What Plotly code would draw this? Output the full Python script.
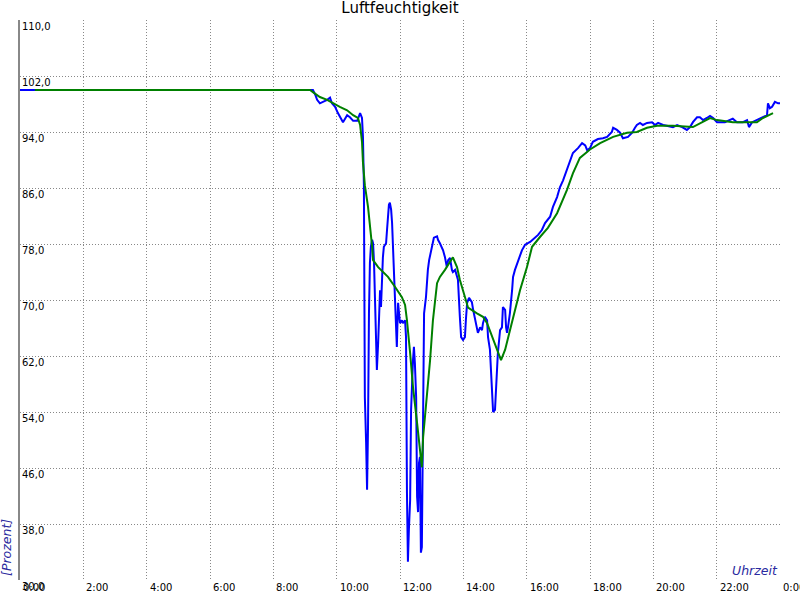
import plotly.graph_objects as go

# Blue: measured humidity (time in hours, value in %)
blue_t = [0.0, 9.158, 9.25, 9.317, 9.383, 9.47, 9.57, 9.70, 9.79, 9.85, 9.95, 10.04, 10.2, 10.33, 10.42,
          10.52, 10.65, 10.74, 10.80, 10.83, 10.86, 10.87, 10.89, 10.93, 10.96, 10.99, 11.0, 11.02, 11.05,
          11.08, 11.12, 11.15, 11.18, 11.21, 11.24, 11.27, 11.31, 11.34, 11.37, 11.40, 11.43, 11.46, 11.49,
          11.56, 11.59, 11.62, 11.65, 11.68, 11.72, 11.75, 11.78, 11.81, 11.84, 11.87, 11.90, 11.92, 11.94,
          11.97, 12.0, 12.06, 12.09, 12.16, 12.19, 12.22, 12.24, 12.25, 12.28, 12.32, 12.35, 12.38, 12.41,
          12.44, 12.47, 12.51, 12.54, 12.57, 12.58, 12.60, 12.63, 12.66, 12.69, 12.73, 12.74, 12.76, 12.82,
          12.85, 12.88, 12.92, 12.98, 13.04, 13.07, 13.17, 13.20, 13.26, 13.36, 13.42, 13.48, 13.52, 13.58,
          13.64, 13.67, 13.74, 13.83, 13.89, 13.93, 13.99, 14.05, 14.08, 14.12, 14.18, 14.27, 14.31, 14.37,
          14.43, 14.46, 14.53, 14.59, 14.62, 14.68, 14.75, 14.78, 14.84, 14.87, 14.91, 14.94, 15.0, 15.06,
          15.09, 15.16, 15.22, 15.25, 15.32, 15.35, 15.38, 15.41, 15.47, 15.54, 15.57, 15.63, 15.73, 15.85,
          15.95, 16.11, 16.26, 16.36, 16.48, 16.58, 16.74, 16.83, 16.96, 17.05, 17.15, 17.27, 17.37, 17.46,
          17.62, 17.75, 17.85, 17.91, 18.0, 18.09, 18.25, 18.41, 18.54, 18.69, 18.73, 18.85, 18.95, 19.04,
          19.2, 19.33, 19.42, 19.48, 19.58, 19.67, 19.8, 19.96, 20.05, 20.15, 20.31, 20.46, 20.62, 20.75,
          20.91, 21.06, 21.16, 21.25, 21.38, 21.47, 21.57, 21.69, 21.79, 21.89, 22.01, 22.26, 22.51, 22.64,
          22.83, 22.96, 23.02, 23.12, 23.37, 23.46, 23.59, 23.62, 23.68, 23.75, 23.84, 23.94, 24.0]
blue_v = [100.0, 100.0, 100.0, 99.4, 98.6, 98.1, 98.3, 98.6, 98.9, 98.1, 97.6, 96.7, 95.4, 96.4, 96.1,
          95.6, 95.6, 96.7, 96.0, 93.3, 86.4, 76.1, 56.1, 49.6, 42.9, 51.9, 63.3, 68.1, 75.3,
          77.6, 78.6, 78.1, 75.3, 70.4, 65.7, 60.0, 63.9, 68.1, 71.4, 69.0, 73.9, 76.1, 77.6,
          78.1, 80.0, 82.1, 83.6, 83.9, 82.9, 81.0, 77.1, 72.9, 70.4, 66.7, 63.3, 66.7, 69.6,
          68.1, 66.7, 67.1, 66.7, 67.1, 64.7, 42.4, 32.9, 32.6, 37.1, 41.4, 54.3, 58.6, 61.4,
          63.3, 61.0, 56.1, 41.9, 39.7, 41.9, 46.7, 47.6, 33.9, 34.7, 53.9, 63.3, 68.1, 70.4,
          72.9, 74.3, 75.7, 77.1, 78.3, 78.9, 79.1, 78.6, 78.1, 77.1, 76.1, 74.7, 75.7, 76.0,
          74.3, 74.0, 74.3, 72.9, 67.6, 64.7, 64.3, 64.7, 67.1, 69.6, 70.3, 69.7, 68.6, 67.1,
          66.1, 65.3, 66.1, 65.7, 66.7, 67.6, 67.1, 64.7, 62.9, 59.6, 56.7, 54.0, 54.3, 58.6,
          62.4, 65.7, 66.1, 69.0, 68.6, 66.1, 65.3, 66.1, 68.1, 71.4, 73.3, 74.3, 75.7, 77.1,
          77.9, 78.3, 78.9, 79.3, 80.0, 81.0, 81.9, 83.3, 84.7, 86.1, 87.1, 88.6, 90.0, 91.0,
          91.7, 92.4, 92.1, 91.4, 91.7, 92.6, 93.0, 93.1, 93.3, 94.0, 94.6, 94.3, 93.9, 93.1,
          93.3, 93.9, 94.6, 95.0, 95.3, 95.0, 95.3, 95.4, 95.0, 95.3, 95.0, 94.9, 94.7, 95.0,
          94.7, 94.3, 94.7, 95.4, 96.1, 96.1, 95.7, 96.0, 96.3, 96.0, 95.4, 95.4, 95.9, 95.4,
          95.4, 95.7, 94.7, 95.4, 95.9, 96.1, 96.4, 98.1, 97.4, 97.6, 98.3, 98.1, 98.1]

# Green: smoothed humidity
green_t = [0.47, 9.158, 9.25, 9.47, 9.70, 9.88, 10.1, 10.33, 10.52, 10.67, 10.74, 10.80, 10.83, 10.89,
           10.99, 11.12, 11.15, 11.31, 11.62, 11.84, 12.06, 12.16, 12.22, 12.32, 12.41, 12.54, 12.63,
           12.69, 12.73, 12.85, 12.95, 13.04, 13.17, 13.26, 13.42, 13.67, 13.80, 13.89, 14.05, 14.15,
           14.43, 14.62, 14.75, 14.91, 15.06, 15.19, 15.32, 15.47, 15.63, 15.79, 16.01, 16.17, 16.42,
           16.67, 16.96, 17.27, 17.46, 17.68, 18.0, 18.32, 18.73, 19.17, 19.48, 19.8, 20.12, 20.62,
           21.25, 21.57, 21.79, 22.01, 22.51, 23.27, 23.46, 23.78]
green_v = [100.0, 100.0, 99.7, 99.0, 98.6, 98.1, 97.6, 97.1, 96.4, 96.0, 95.0, 92.6, 89.7, 86.4,
           83.3, 77.6, 75.7, 74.7, 73.3, 71.9, 70.4, 69.3, 67.1, 62.4, 57.6, 52.4, 48.1,
           46.1, 50.4, 56.1, 61.4, 67.1, 72.4, 73.3, 74.3, 76.1, 74.7, 72.9, 70.4, 68.9,
           68.1, 67.6, 66.7, 64.7, 63.1, 61.4, 62.9, 65.7, 68.6, 71.4, 74.7, 77.6, 79.0,
           80.3, 82.4, 85.7, 88.1, 90.3, 91.5, 92.4, 93.3, 93.9, 94.0, 94.6, 94.9, 94.9,
           94.7, 95.4, 96.0, 95.7, 95.4, 95.4, 96.0, 96.7]

x_ticks = list(range(0, 25, 2))
x_labels = ["%d:00" % (h % 24) for h in x_ticks]
y_ticks = [30 + 8 * i for i in range(11)]
y_labels = [("%.1f" % v).replace(".", ",") for v in y_ticks]

title_text = "Luftfeuchtigkeit"
x_title = "Uhrzeit"
y_title = "[Prozent]"

FONT = "DejaVu Sans"

fig = go.Figure()
fig.add_trace(go.Scatter(x=blue_t, y=blue_v, mode="lines",
                         line=dict(color="#0000ff", width=2), hoverinfo="skip"))
fig.add_trace(go.Scatter(x=green_t, y=green_v, mode="lines",
                         line=dict(color="#008000", width=2), hoverinfo="skip"))

annotations = []
for v, lab in zip(y_ticks, y_labels):
    annotations.append(dict(xref="paper", x=0, yref="y", y=v, text=lab, showarrow=False,
                            xanchor="left", yanchor="top", xshift=0, yshift=1,
                            font=dict(family=FONT, size=10, color="#000000")))
for h, lab in zip(x_ticks, x_labels):
    annotations.append(dict(xref="x", x=h, yref="paper", y=0, text=lab, showarrow=False,
                            xanchor="left", yanchor="top", xshift=1, yshift=0,
                            font=dict(family=FONT, size=10, color="#000000")))
annotations.append(dict(xref="paper", x=1, yref="paper", y=0, text="<i>%s</i>" % x_title,
                        showarrow=False, xanchor="right", yanchor="bottom", yshift=0,
                        font=dict(family=FONT, size=12.5, color="#2a2aa0")))
annotations.append(dict(xref="paper", x=0, yref="paper", y=0, text="<i>%s</i>" % y_title,
                        showarrow=False, textangle=-90, xanchor="right", yanchor="bottom",
                        xshift=-4, yshift=2,
                        font=dict(family=FONT, size=12.5, color="#2a2aa0")))

fig.update_layout(
    width=800, height=600,
    margin=dict(l=20, r=20, t=20, b=20),
    paper_bgcolor="white", plot_bgcolor="white",
    showlegend=False,
    title=dict(text=title_text, x=0.5, xanchor="center", y=1 - 8 / 600, yanchor="middle",
               font=dict(family=FONT, size=15, color="#000000")),
    xaxis=dict(range=[0, 24], tick0=0, dtick=2, showticklabels=False, ticks="",
               showgrid=True, gridcolor="#888888", gridwidth=1, griddash="1px,2px",
               zeroline=False, showline=False, fixedrange=True),
    yaxis=dict(range=[30, 110], tick0=30, dtick=8, showticklabels=False, ticks="",
               showgrid=True, gridcolor="#888888", gridwidth=1, griddash="1px,2px",
               zeroline=False, showline=True, linecolor="#888888", linewidth=2, mirror=False,
               fixedrange=True),
    annotations=annotations,
    font=dict(family=FONT),
)

fig.write_html("out.html", config={"displayModeBar": False},
               post_script="document.body.style.margin='0';")
